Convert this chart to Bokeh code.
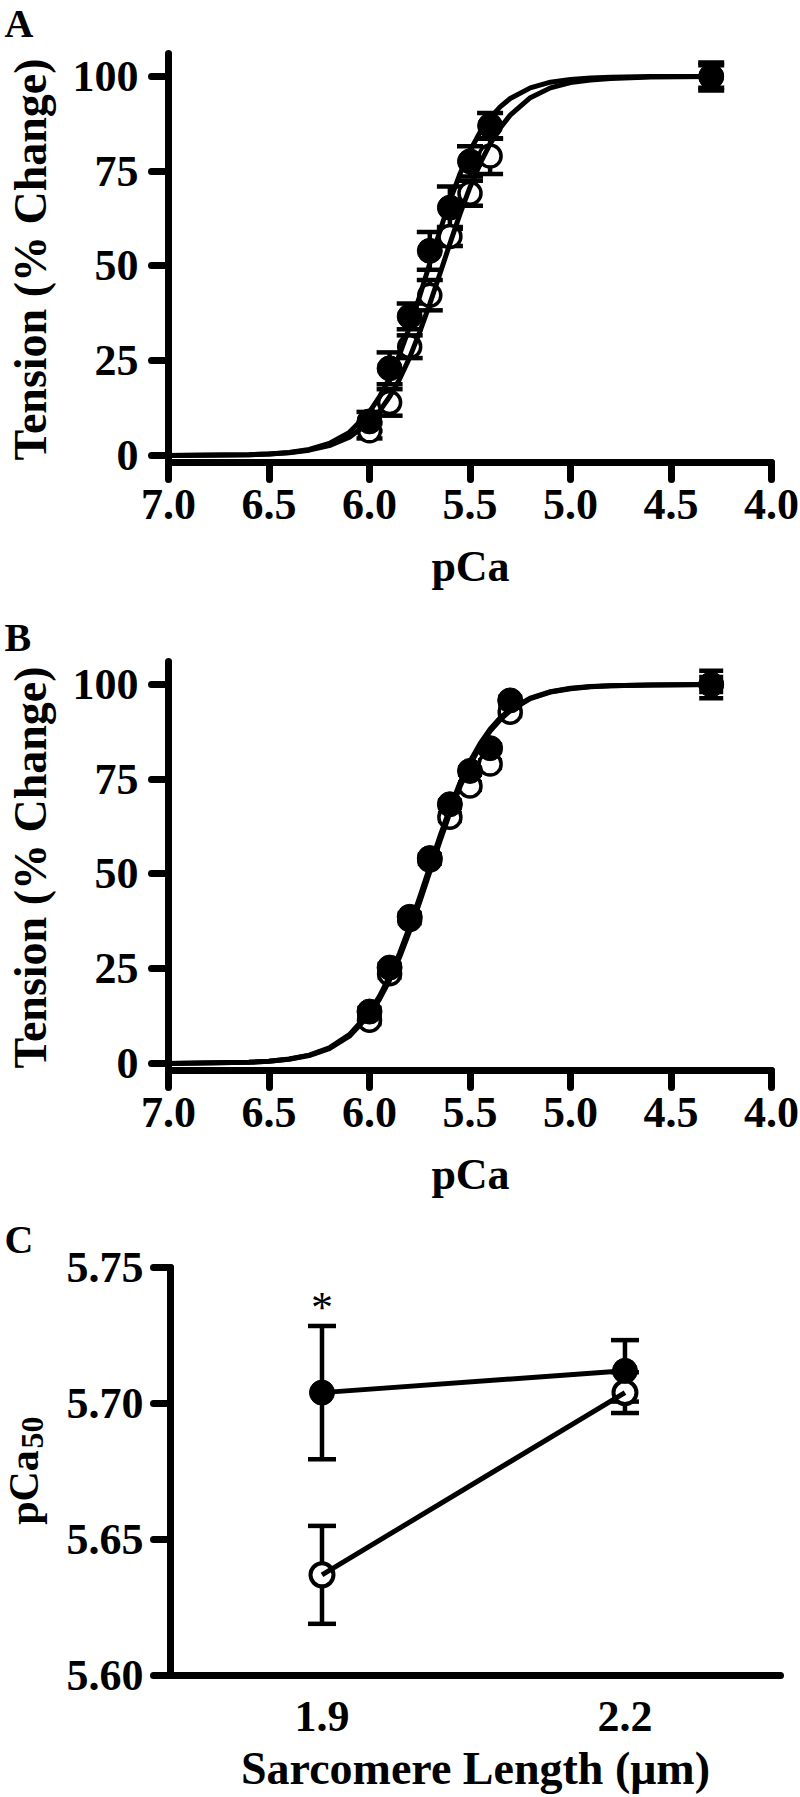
import math
from bokeh.plotting import figure
from bokeh.models import (Range1d, FixedTicker, PrintfTickFormatter, Whisker, TeeHead,
                          ColumnDataSource, Label, LinearAxis)
from bokeh.layouts import column
from bokeh.embed import file_html
from bokeh.resources import INLINE

FONT = "Liberation Serif"

# ---------------- data ----------------
pca_ticks = [7.0, 6.5, 6.0, 5.5, 5.0, 4.5, 4.0]
tension_ticks = [0, 25, 50, 75, 100]

# Panel A
pca_A = [6.0, 5.9, 5.8, 5.7, 5.6, 5.5, 5.4, 4.3]
A_filled = [9.0, 23.0, 36.7, 54.0, 65.4, 77.6, 87.0, 100.0]
A_filled_sem = [2.5, 4.2, 3.4, 5.0, 5.6, 4.0, 3.4, 3.7]
A_open = [6.5, 14.0, 28.7, 42.3, 57.8, 69.2, 79.0, 100.0]
A_open_sem = [2.0, 3.5, 3.0, 4.0, 2.5, 3.3, 4.7, 3.0]

# Panel B
pca_B = [6.0, 5.9, 5.8, 5.7, 5.6, 5.5, 5.4, 5.3, 4.3]
B_filled = [13.7, 25.3, 38.7, 54.2, 68.4, 77.2, 83.2, 95.8, 100.0]
B_filled_sem = [1.0, 1.0, 1.0, 1.0, 1.0, 1.0, 1.0, 1.0, 3.6]
B_open = [11.4, 23.7, 38.0, 53.7, 65.0, 73.2, 79.0, 92.7, 100.0]
B_open_sem = [1.0, 1.0, 1.0, 1.0, 1.0, 1.0, 1.0, 1.0, 2.0]

# fitted curves
curve_pca = [7.0, 6.6, 6.5, 6.4, 6.3, 6.2, 6.1, 6.0, 5.95, 5.9, 5.85, 5.8, 5.75, 5.7,
             5.65, 5.6, 5.55, 5.5, 5.45, 5.4, 5.35, 5.3, 5.2, 5.1, 5.0, 4.9, 4.8, 4.6, 4.3]
A_fit_filled = [0.0, 0.2, 0.4, 0.8, 1.6, 3.2, 6.1, 11.5, 15.5, 20.5, 26.7, 34.0, 42.1, 50.7,
                59.2, 67.2, 74.3, 80.4, 85.3, 89.1, 92.0, 94.2, 97.0, 98.5, 99.2, 99.6, 99.8, 100.0, 100.0]
A_fit_open = [0.0, 0.2, 0.4, 0.7, 1.4, 2.6, 4.8, 8.8, 11.7, 15.5, 20.2, 25.9, 32.6, 40.0,
              47.9, 55.9, 63.7, 70.8, 77.0, 82.2, 86.4, 89.8, 94.4, 97.0, 98.4, 99.1, 99.5, 99.9, 100.0]
B_fit_filled = [0.0, 0.3, 0.6, 1.2, 2.2, 4.1, 7.6, 13.5, 17.8, 23.0, 29.1, 36.2, 43.9, 51.9,
                59.9, 67.3, 74.0, 79.7, 84.4, 88.2, 91.2, 93.4, 96.4, 98.1, 99.0, 99.5, 99.7, 99.9, 100.0]
B_fit_open = [0.0, 0.3, 0.6, 1.1, 2.1, 3.9, 7.2, 12.9, 17.0, 22.0, 28.1, 35.0, 42.6, 50.6,
              58.6, 66.2, 73.0, 78.8, 83.7, 87.7, 90.7, 93.1, 96.3, 98.0, 98.9, 99.4, 99.7, 99.9, 100.0]

# Panel C
sl = [1.9, 2.2]
sl_ticks = [1.9, 2.2]
C_filled = [5.704, 5.712]
C_filled_sem = [0.0245, 0.0113]
C_open = [5.637, 5.704]
C_open_sem = [0.018, 0.0075]
pca50_ticks = [5.60, 5.65, 5.70, 5.75]

BASELINE_SHIFT = 0.37  # em; Bokeh draws Label text this much lower than the anchor


# ---------------- helpers ----------------
def to_data(px, py, frame, xr, yr):
    """page pixel -> data, given the pixel box of the axes (L, R, T, B)"""
    L, R, T, B = frame
    x = xr[0] + (px - L) / (R - L) * (xr[1] - xr[0])
    y = yr[0] + (B - py) / (B - T) * (yr[1] - yr[0])
    return x, y


class Panel:
    def __init__(self, canvas, frame, xr, yr):
        self.frame, self.xr, self.yr = frame, xr, yr
        cx0, cx1, cy0, cy1 = canvas
        xl, yt = to_data(cx0, cy0, frame, xr, yr)
        xrt, yb = to_data(cx1, cy1, frame, xr, yr)
        p = figure(width=cx1 - cx0, height=cy1 - cy0,
                   x_range=Range1d(xl, xrt), y_range=Range1d(yb, yt),
                   x_axis_location=None, y_axis_location=None,
                   output_backend="svg", toolbar_location=None, min_border=0)
        p.min_border_left = p.min_border_right = p.min_border_top = p.min_border_bottom = 0
        p.outline_line_color = None
        p.grid.visible = False
        p.background_fill_color = "white"
        p.border_fill_color = "white"
        self.p = p
        self.xaxis = self._axis(fixed=yr[0], bounds=(min(xr), max(xr)))
        p.add_layout(self.xaxis, "below")
        self.yaxis = self._axis(fixed=xr[0], bounds=(min(yr), max(yr)))
        p.add_layout(self.yaxis, "left")

    def _axis(self, fixed, bounds):
        ax = LinearAxis(fixed_location=fixed, bounds=bounds)
        ax.axis_line_width = 7
        ax.axis_line_cap = "round"
        ax.axis_line_color = "black"
        ax.major_tick_line_width = 7
        ax.major_tick_line_cap = "round"
        ax.major_tick_line_color = "black"
        ax.major_tick_in = 0
        ax.major_tick_out = 17
        ax.minor_tick_line_color = None
        ax.major_label_text_font = FONT
        ax.major_label_text_font_style = "bold"
        ax.major_label_text_font_size = "44px"
        ax.major_label_text_color = "black"
        return ax

    def label(self, px, py, text, size, bold=True, vertical=False, align="left", x=None):
        off = BASELINE_SHIFT * size
        if vertical:
            px -= off
        else:
            py -= off
        dx, dy = to_data(px, py, self.frame, self.xr, self.yr)
        self.p.add_layout(Label(x=dx if x is None else x, y=dy, text=text, text_font=FONT,
                                text_font_style="bold" if bold else "normal",
                                text_font_size=f"{size}px", text_color="black",
                                angle=math.pi / 2 if vertical else 0.0,
                                text_align=align, text_baseline="alphabetic"))

    def errors(self, xs, ys, errs, cap):
        src = ColumnDataSource(dict(base=xs,
                                    upper=[v + e for v, e in zip(ys, errs)],
                                    lower=[v - e for v, e in zip(ys, errs)]))
        self.p.add_layout(Whisker(base="base", upper="upper", lower="lower", source=src,
                                  dimension="height", line_width=4.5, line_color="black",
                                  upper_head=TeeHead(size=cap, line_width=4.5, line_color="black"),
                                  lower_head=TeeHead(size=cap, line_width=4.5, line_color="black")))


def tension_panel(canvas, frame, letter_y, title_cy, xlabel_base,
                  pca, filled, filled_sem, opn, opn_sem, fit_f, fit_o, letter, cap):
    P = Panel(canvas, frame, (7.0, 4.0), (-1.85, 106.07))
    p = P.p
    P.xaxis.ticker = FixedTicker(ticks=pca_ticks)
    P.xaxis.formatter = PrintfTickFormatter(format="%.1f")
    P.xaxis.major_label_standoff = 10
    P.yaxis.ticker = FixedTicker(ticks=tension_ticks)
    P.yaxis.major_label_standoff = 13

    P.errors(pca, opn, opn_sem, cap)
    P.errors(pca, filled, filled_sem, cap)
    p.scatter(pca, opn, marker="circle", size=22, fill_color="white",
              line_color="black", line_width=3.5)
    p.line(curve_pca, fit_o, line_width=5, line_color="black", line_join="round")
    p.line(curve_pca, fit_f, line_width=5, line_color="black", line_join="round")
    p.scatter(pca, filled, marker="circle", size=25, fill_color="black", line_color="black")

    P.label(4, letter_y, letter, 40)
    P.label(47, title_cy, "Tension (% Change)", 46, vertical=True, align="center")
    P.label(470, xlabel_base, "pCa", 44, align="center")
    return p


# ---------------- panels (page pixel boxes) ----------------
pA = tension_panel((0, 800, 0, 606), (168, 771, 53, 462), 38, 259, 582,
                   pca_A, A_filled, A_filled_sem, A_open, A_open_sem,
                   A_fit_filled, A_fit_open, "A", 26)

pB = tension_panel((0, 800, 606, 1212), (168, 771, 661, 1070), 652, 867, 1190,
                   pca_B, B_filled, B_filled_sem, B_open, B_open_sem,
                   B_fit_filled, B_fit_open, "B", 24)

# Panel C
C = Panel((0, 800, 1212, 1797), (170, 780, 1267, 1675), (1.75, 2.354), (5.60, 5.75))
pC = C.p
C.xaxis.ticker = FixedTicker(ticks=sl_ticks)
C.xaxis.formatter = PrintfTickFormatter(format="%.1f")
C.xaxis.major_tick_out = 0
C.xaxis.major_tick_line_color = None
C.xaxis.major_label_standoff = 26
C.yaxis.ticker = FixedTicker(ticks=pca50_ticks)
C.yaxis.formatter = PrintfTickFormatter(format="%.2f")
C.yaxis.major_label_standoff = 10

C.errors(sl, C_open, C_open_sem, 28)
C.errors(sl, C_filled, C_filled_sem, 28)
pC.scatter(sl, C_open, marker="circle", size=23, fill_color="white",
           line_color="black", line_width=4)
pC.line(sl, C_open, line_width=5, line_color="black")
pC.line(sl, C_filled, line_width=5, line_color="black")
pC.scatter(sl, C_filled, marker="circle", size=25, fill_color="black", line_color="black")

C.label(322, 1323, "*", 44, bold=False, align="center", x=sl[0])
C.label(4, 1254, "C", 40)
C.label(39, 1487, "pCa", 42, vertical=True, align="center")
C.label(44, 1448, "50", 32, vertical=True, align="left")
C.label(475, 1785, "Sarcomere Length (\u03bcm)", 46, align="center")

layout = column(pA, pB, pC, spacing=0)
open("out.html", "w").write(file_html(layout, INLINE))
